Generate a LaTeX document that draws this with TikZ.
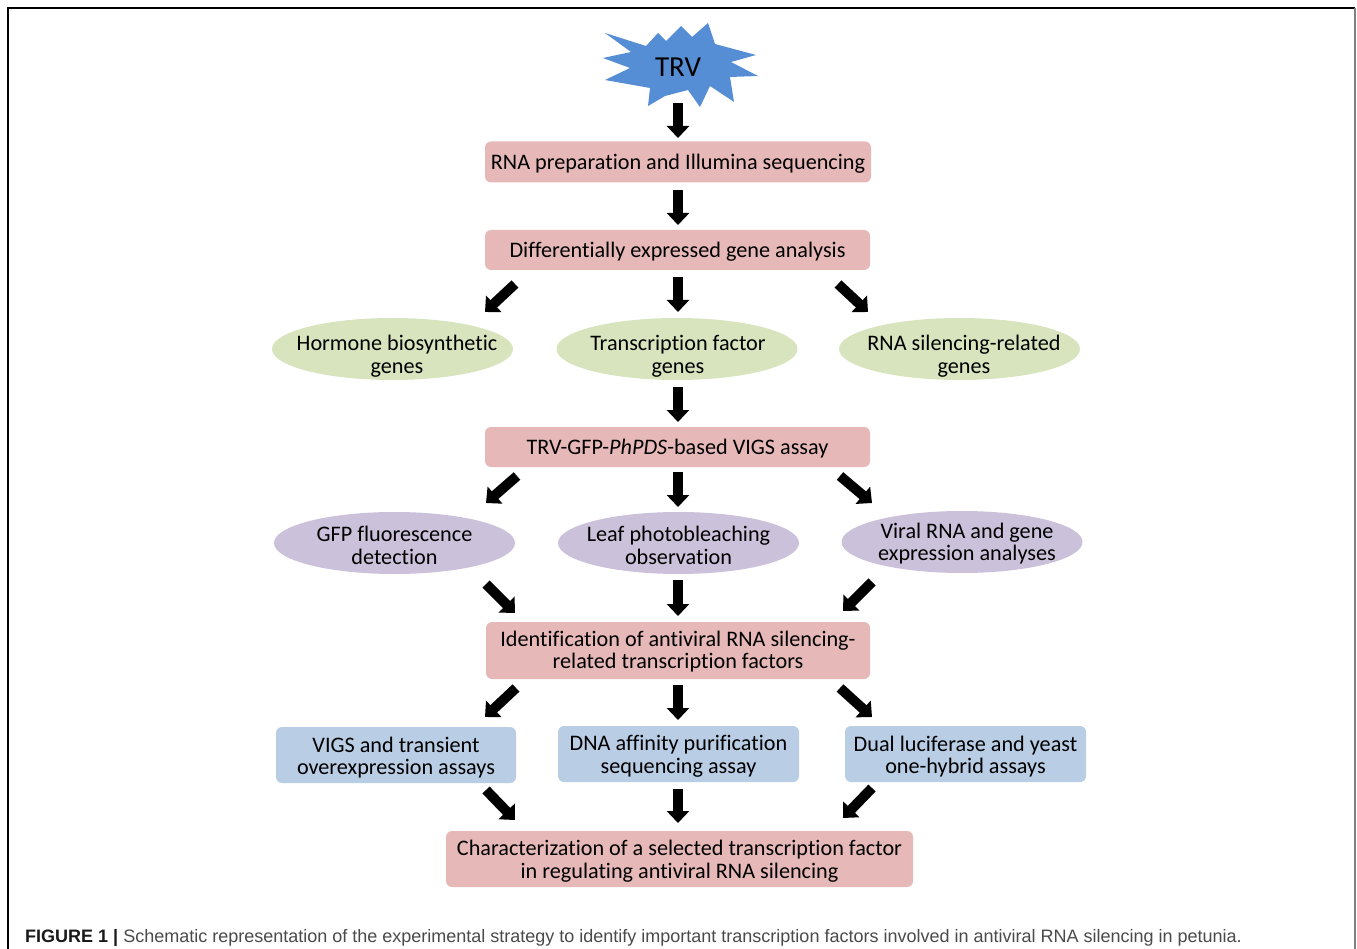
\documentclass[tikz,border=0pt]{standalone}
\usepackage{fontspec}
\setmainfont{Carlito}[Ligatures=NoCommon]
\newfontfamily\capfont{Liberation Sans}
\usetikzlibrary{arrows.meta,shapes.geometric}
\definecolor{pinkbox}{HTML}{E6B9B8}
\definecolor{greenov}{HTML}{D7E4BD}
\definecolor{purpov}{HTML}{CCC1DA}
\definecolor{bluebox}{HTML}{B9CDE5}
\definecolor{starblue}{HTML}{558ED5}
\definecolor{capgray}{HTML}{4A4A4A}
\begin{document}
\begin{tikzpicture}[x=1pt,y=-1pt,
  txt/.style={font=\fontsize{22.2}{22.8}\selectfont, align=center, inner sep=0pt, text=black},
  box/.style={rounded corners=6pt, inner sep=0pt, fill=pinkbox, minimum width=385pt, minimum height=40pt},
  bbox/.style={rounded corners=6pt, inner sep=0pt, fill=bluebox, minimum width=241pt, minimum height=56pt},
  oval/.style={ellipse, inner sep=0pt, minimum width=241pt, minimum height=62pt},
  blk/.style={line width=10pt, -{Triangle[length=12pt,width=22pt]}}
]
\useasboundingbox (0,0) rectangle (1357,949);
\fill[white] (0,0) rectangle (1357,949);
% frame
\draw[line width=1.5pt, black] (8,949) -- (8,8) -- (1355,8);
\draw[line width=1.5pt, gray] (1355,8) -- (1355,949);

% star
\fill[starblue] (605,33) -- (646,46) -- (658,33) -- (666,41) -- (681,26) -- (692,37) -- (708,23) -- (715,44) -- (756,55) -- (731,62) -- (758,76) -- (730,77) -- (734,102) -- (710,86) -- (700,107) -- (688,90) -- (665,96) -- (648,106) -- (650,88) -- (605,80) -- (630,68) -- (603,58) -- (631,52) -- cycle;
\node[txt, font=\fontsize{29}{30}\selectfont] (trv) at (678,67) {TRV};

% shapes
\node[box, minimum width=386pt, minimum height=41pt] (rna) at (678,162) {};
\node[box] (diff) at (677.5,250) {};
\node[oval, fill=greenov] (horm) at (392.5,349) {};
\node[oval, fill=greenov] (tf) at (677,349) {};
\node[oval, fill=greenov] (rsil) at (959.5,349) {};
\node[box] (vigs) at (677.5,447) {};
\node[oval, fill=purpov] (gfp) at (394.5,543) {};
\node[oval, fill=purpov] (leaf) at (678.5,543) {};
\node[oval, fill=purpov] (viral) at (962,542) {};
\node[box, minimum width=384pt, minimum height=57pt] (ident) at (678,650.5) {};
\node[bbox, minimum width=240pt] (vt) at (396,755) {};
\node[bbox] (dna) at (678.5,754) {};
\node[bbox] (dual) at (965.5,754) {};
\node[box, minimum width=467pt, minimum height=56pt] (char) at (679.5,859) {};

% texts
\node[txt] (rnat) at (678,164) {RNA preparation and Illumina sequencing};
\node[txt] (difft) at (677.5,252) {Differentially expressed gene analysis};
\node[txt] (hormt) at (397,356.5) {Hormone biosynthetic\\genes};
\node[txt] (tft) at (678,356.5) {Transcription factor\\genes};
\node[txt] (rsilt) at (964,356.5) {RNA silencing-related\\genes};
\node[txt] (vigst) at (677.5,449) {TRV-GFP-\textit{PhPDS}-based VIGS assay};
\node[txt] (gfpt) at (394.5,545) {GFP fluorescence\\detection};
\node[txt] (leaft) at (678.5,545) {Leaf photobleaching\\observation};
\node[txt] (viralt) at (967,543.5) {Viral RNA and gene\\expression analyses};
\node[txt] (identt) at (678,651.5) {Identification of antiviral RNA silencing-\\related transcription factors};
\node[txt] (vtt) at (396,757.5) {VIGS and transient\\overexpression assays};
\node[txt] (dnat) at (678.5,756.5) {DNA affinity purification\\sequencing assay};
\node[txt] (dualt) at (965.5,756.5) {Dual luciferase and yeast\\one-hybrid assays};
\node[txt] (chart) at (679.5,861) {Characterization of a selected transcription factor\\in regulating antiviral RNA silencing};

% arrow end points
\coordinate (a1s) at (678,103); \coordinate (a1e) at (678,138);
\coordinate (a2s) at (678,190); \coordinate (a2e) at (678,225);
\coordinate (a3s) at (515,284); \coordinate (a3e) at (485,312);
\coordinate (a4s) at (678,277); \coordinate (a4e) at (678,312);
\coordinate (a5s) at (838,284); \coordinate (a5e) at (868,312);
\coordinate (a6s) at (678,387); \coordinate (a6e) at (678,422);
\coordinate (a7s) at (517,476); \coordinate (a7e) at (486,503);
\coordinate (a8s) at (678,472); \coordinate (a8e) at (678,507);
\coordinate (a9s) at (840,476); \coordinate (a9e) at (872,503);
\coordinate (b1s) at (486,584); \coordinate (b1e) at (515,613);
\coordinate (b2s) at (678,580); \coordinate (b2e) at (678,616);
\coordinate (b3s) at (872,582); \coordinate (b3e) at (843,611);
\coordinate (b4s) at (516,688); \coordinate (b4e) at (485,717);
\coordinate (b5s) at (678,685); \coordinate (b5e) at (678,720);
\coordinate (b6s) at (840,688); \coordinate (b6e) at (872,717);
\coordinate (c1s) at (486,790); \coordinate (c1e) at (515,820);
\coordinate (c2s) at (678,789); \coordinate (c2e) at (678,823);
\coordinate (c3s) at (872,788); \coordinate (c3e) at (843,818);
\foreach \a in {a1,a2,a3,a4,a5,a6,a7,a8,a9,b1,b2,b3,b4,b5,b6,c1,c2,c3}
  \draw[blk] (\a s) -- (\a e);

% caption
\node[anchor=base west, inner sep=0pt, font=\capfont\fontsize{18}{20}\selectfont, text=capgray] (cap) at (25,942)
  {\textcolor{black!90}{\textbf{FIGURE 1 |}} Schematic representation of the experimental strategy to identify important transcription factors involved in antiviral RNA silencing in petunia.};
\end{tikzpicture}
\end{document}
